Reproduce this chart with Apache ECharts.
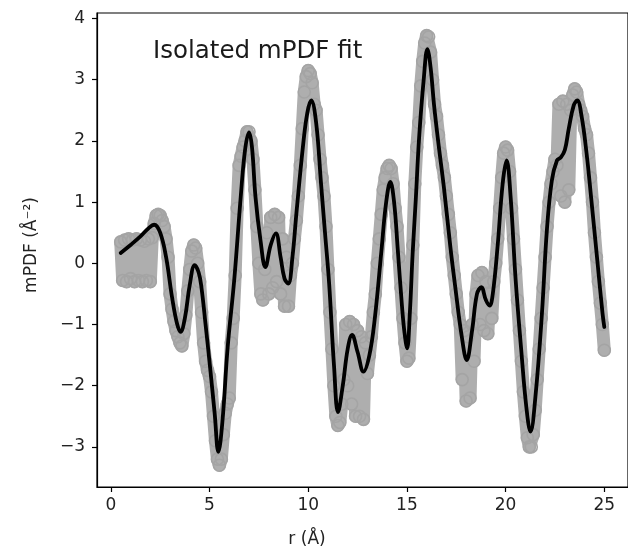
<!DOCTYPE html>
<html>
<head>
<meta charset="utf-8">
<script src="https://cdn.jsdelivr.net/npm/echarts@6/dist/echarts.min.js"></script>
<style>html,body{margin:0;padding:0;background:#fff}#c{width:628px;height:553px}</style>
</head>
<body>
<div id="c"></div>
<script>
// ---- data ----
const titleText = "Isolated mPDF fit";
const xName = "r (Å)";
const yName = "mPDF (Å⁻²)";
const xTicks = [0, 5, 10, 15, 20, 25];
const yTicks = [-3, -2, -1, 0, 1, 2, 3, 4];

// observed data (grey open circles)
const obsR = [0.5,0.6,0.7,0.8,0.9,1.0,1.1,1.2,1.3,1.4,1.5,1.6,1.7,1.8,1.9,2.0,2.1,2.2,2.3,2.4,2.5,2.6,2.7,2.8,2.9,
3.0,3.1,3.2,3.3,3.4,3.5,3.6,3.7,3.8,3.9,4.0,4.1,4.2,4.3,4.4,4.5,4.6,4.7,4.8,4.9,
5.0,5.1,5.2,5.3,5.4,5.5,5.6,5.7,5.8,5.9,6.0,6.1,6.2,6.3,6.4,6.5,6.6,6.7,6.8,6.9,
7.0,7.1,7.2,7.3,7.4,7.5,7.6,7.7,7.8,7.9,8.0,8.1,8.2,8.3,8.4,8.5,8.6,8.7,8.8,8.9,
9.0,9.1,9.2,9.3,9.4,9.5,9.6,9.7,9.8,9.9,10.0,10.1,10.2,10.3,10.4,10.5,10.6,10.7,10.8,10.9,
11.0,11.1,11.2,11.3,11.4,11.5,11.6,11.7,11.8,11.9,12.0,12.1,12.2,12.3,12.4,12.5,12.6,12.7,12.8,12.9,
13.0,13.1,13.2,13.3,13.4,13.5,13.6,13.7,13.8,13.9,14.0,14.1,14.2,14.3,14.4,14.5,14.6,14.7,14.8,14.9,
15.0,15.1,15.2,15.3,15.4,15.5,15.6,15.7,15.8,15.9,16.0,16.1,16.2,16.3,16.4,16.5,16.6,16.7,16.8,16.9,
17.0,17.1,17.2,17.3,17.4,17.5,17.6,17.7,17.8,17.9,18.0,18.1,18.2,18.3,18.4,18.5,18.6,18.7,18.8,18.9,
19.0,19.1,19.2,19.3,19.4,19.5,19.6,19.7,19.8,19.9,20.0,20.1,20.2,20.3,20.4,20.5,20.6,20.7,20.8,20.9,
21.0,21.1,21.2,21.3,21.4,21.5,21.6,21.7,21.8,21.9,22.0,22.1,22.2,22.3,22.4,22.5,22.6,22.7,22.8,22.9,
23.0,23.1,23.2,23.3,23.4,23.5,23.6,23.7,23.8,23.9,24.0,24.1,24.2,24.3,24.4,24.5,24.6,24.7,24.8,24.9,25.0];
const obsV = [0.35,-0.28,0.38,-0.3,0.4,-0.25,0.38,-0.3,0.4,-0.28,0.38,-0.3,0.36,-0.28,0.4,-0.3,0.42,0.65,0.78,0.8,0.78,0.7,0.6,0.4,0.1,
-0.5,-0.75,-0.95,-1.1,-1.2,-1.3,-1.35,-1.15,-0.85,-0.45,-0.1,0.2,0.3,0.25,0.0,-0.3,-0.8,-1.3,-1.6,-1.75,
-1.85,-2.1,-2.5,-2.9,-3.2,-3.3,-3.2,-2.8,-2.45,-2.3,-2.2,-1.3,-0.9,-0.2,0.9,1.6,1.75,1.9,2.0,2.15,
2.15,2.0,1.7,1.2,0.6,0.0,-0.5,-0.6,-0.1,0.5,-0.5,0.75,-0.4,0.8,-0.3,0.75,-0.5,0.4,-0.7,0.1,
-0.7,-0.2,0.0,0.4,0.7,1.1,1.6,2.2,2.8,3.05,3.15,3.1,2.95,2.6,2.5,2.1,1.7,1.4,1.1,0.6,
-0.1,-0.8,-1.4,-2.0,-2.5,-2.65,-2.6,-2.3,-1.9,-1.0,-2.0,-0.95,-2.3,-1.0,-2.5,-1.1,-2.5,-1.2,-2.55,-1.3,
-1.8,-1.5,-1.2,-0.8,-0.5,0.0,0.4,0.8,1.2,1.4,1.55,1.6,1.55,1.3,0.9,0.6,0.1,-0.4,-0.9,-1.3,
-1.6,-1.55,-0.9,0.3,1.3,1.9,2.3,2.9,3.3,3.6,3.72,3.7,3.45,3.0,2.6,2.4,2.1,1.8,1.6,1.4,
1.1,0.8,0.5,0.1,-0.2,-0.5,-0.8,-1.0,-1.9,-1.1,-2.25,-1.2,-2.2,-1.0,-1.6,-0.5,-0.2,-1.0,-0.15,-1.1,
-0.3,-1.15,-0.5,-0.9,-0.3,0.0,0.4,0.9,1.4,1.8,1.9,1.85,1.5,0.9,0.4,-0.1,-0.6,-1.1,-1.6,-2.1,
-2.5,-2.85,-3.0,-3.0,-2.8,-2.4,-1.9,-1.4,-0.9,-0.4,0.1,0.6,1.0,1.3,1.5,1.7,1.6,2.6,1.1,2.65,
1.0,2.6,1.2,2.5,2.75,2.85,2.8,2.6,2.5,2.4,2.2,2.1,1.8,1.4,1.0,0.5,0.1,-0.3,-0.65,-1.0,-1.42];

// fit (black line)
const fitR = [0.5,1.0,1.5,1.9,2.2,2.5,2.8,3.1,3.35,3.53,3.75,4.0,4.25,4.45,4.59,4.8,5.01,5.26,5.45,5.65,5.92,6.25,6.58,6.8,7.0,
7.15,7.33,7.58,7.83,8.1,8.36,8.6,8.8,8.99,9.2,9.4,9.73,9.95,10.15,10.4,10.65,10.85,11.06,11.31,11.51,11.75,12.0,12.22,12.5,12.8,
13.1,13.38,13.71,13.95,14.16,14.35,14.54,14.75,14.88,15.01,15.15,15.29,15.45,15.62,15.85,16.04,16.2,16.37,16.6,16.87,17.2,17.45,17.78,18.03,
18.3,18.55,18.77,19.0,19.19,19.35,19.6,19.85,20.05,20.25,20.51,20.8,21.05,21.26,21.51,21.84,22.09,22.34,22.6,22.8,23.0,23.2,23.45,23.63,23.85,
24.1,24.33,24.66,24.91,25.0];
const fitV = [0.17,0.30,0.44,0.57,0.63,0.50,0.10,-0.55,-0.98,-1.12,-0.90,-0.35,-0.03,-0.15,-0.39,-1.00,-1.64,-2.45,-3.08,-2.60,-1.37,-0.28,1.08,1.85,2.14,
1.90,1.08,0.38,-0.06,0.30,0.49,0.10,-0.25,-0.33,0.10,0.81,1.90,2.45,2.66,2.30,1.30,0.50,-0.33,-1.69,-2.43,-2.00,-1.40,-1.17,-1.45,-1.77,
-1.50,-0.88,0.21,1.00,1.33,1.00,0.21,-0.70,-1.14,-1.39,-0.80,0.16,1.05,2.06,3.00,3.50,3.20,2.60,1.95,1.25,0.27,-0.39,-1.20,-1.58,
-1.10,-0.50,-0.39,-0.60,-0.69,-0.50,0.30,1.30,1.68,1.10,-0.28,-1.45,-2.35,-2.75,-2.18,-0.82,0.54,1.35,1.68,1.73,1.85,2.20,2.58,2.66,2.40,
1.80,1.08,0.00,-0.82,-1.04];

// ---- chart ----
const obsData = obsR.map((r, i) => [r, obsV[i]]);
const fitData = fitR.map((r, i) => [r, fitV[i]]);
const FONT = "DejaVu Sans";
const minus = v => String(v).replace('-', '\u2212');

const chart = echarts.init(document.getElementById('c'), null, {renderer: 'canvas'});
chart.setOption({
  animation: false,
  backgroundColor: '#fff',
  grid: {left: 97, top: 13, right: -10, bottom: 66, show: true, borderColor: '#000', borderWidth: 1.2, backgroundColor: 'transparent'},
  xAxis: {
    type: 'value', min: -0.7, max: 26.2,
    axisLine: {show: true, onZero: false, lineStyle: {color: '#000', width: 1.2}},
    axisTick: {show: true, inside: false, length: 5, customValues: xTicks, lineStyle: {color: '#000', width: 1.2}},
    axisLabel: {show: true, customValues: xTicks, margin: 10, fontSize: 17, fontFamily: FONT, color: '#222', formatter: minus},
    splitLine: {show: false}
  },
  yAxis: {
    type: 'value', min: -3.655, max: 4.09,
    axisLine: {show: true, onZero: false, lineStyle: {color: '#000', width: 1.2}},
    axisTick: {show: true, inside: false, length: 5, customValues: yTicks, lineStyle: {color: '#000', width: 1.2}},
    axisLabel: {show: true, customValues: yTicks, margin: 12, fontSize: 17, fontFamily: FONT, color: '#222', formatter: minus},
    splitLine: {show: false}
  },
  series: [
    {
      type: 'line', data: obsData, smooth: false,
      symbol: 'circle', symbolSize: 12, showSymbol: true, showAllSymbol: true,
      itemStyle: {color: 'rgba(0,0,0,0)', borderColor: '#a4a4a4', borderWidth: 1.6},
      lineStyle: {color: '#aeaeae', width: 13, cap: 'round', join: 'round'},
      emphasis: {disabled: true}, z: 2, clip: true
    },
    {
      type: 'line', data: fitData, smooth: 0.4,
      symbol: 'none', showSymbol: false,
      lineStyle: {color: '#000', width: 3.8, cap: 'round', join: 'round'},
      emphasis: {disabled: true}, z: 3
    }
  ],
  graphic: [
    {type: 'text', x: 153, y: 52, style: {text: titleText, font: '24.5px "DejaVu Sans"', fill: '#1a1a1a', align: 'left', verticalAlign: 'middle'}},
    {type: 'text', x: 307, y: 540, style: {text: xName, font: '17px "DejaVu Sans"', fill: '#222', align: 'center', verticalAlign: 'middle'}},
    {type: 'text', x: 32, y: 245, rotation: Math.PI / 2, style: {text: yName, font: '17px "DejaVu Sans"', fill: '#222', align: 'center', verticalAlign: 'middle'}}
  ]
});
</script>
</body>
</html>
